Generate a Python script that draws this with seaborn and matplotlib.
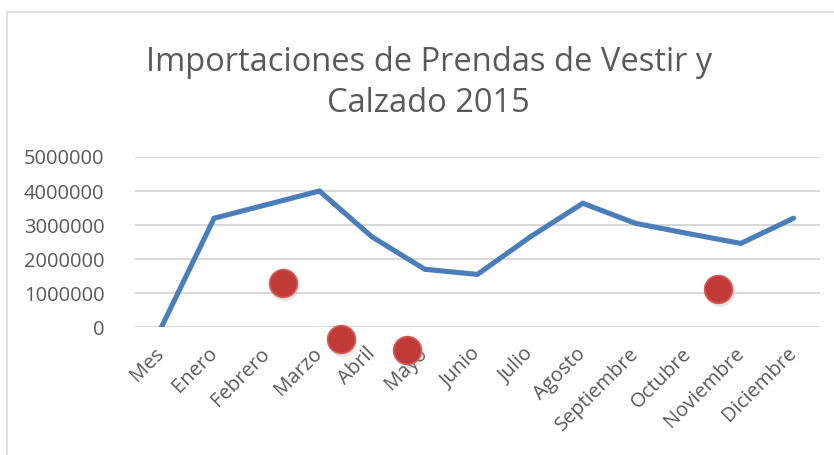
import numpy as np
import pandas as pd
import matplotlib
matplotlib.use('Agg')
import matplotlib.pyplot as plt
import seaborn as sns
from matplotlib.patches import Rectangle

meses = ['Mes', 'Enero', 'Febrero', 'Marzo', 'Abril', 'Mayo', 'Junio', 'Julio',
         'Agosto', 'Septiembre', 'Octubre', 'Noviembre', 'Diciembre']
importaciones = [0, 3200000, 3600000, 4000000, 2650000, 1700000, 1550000,
                 2650000, 3640000, 3050000, 2750000, 2460000, 3200000]

# red decorative spheres on top of the chart (category position, value)
punto_x = [2.30, 3.40, 4.67, 10.57]
punto_y = [1290000, -350000, -680000, 1120000]

yticks = [0, 1000000, 2000000, 3000000, 4000000, 5000000]

df = pd.DataFrame({'pos': np.arange(len(meses)), 'valor': importaciones})

sns.set_style('white')
plt.rcParams['font.family'] = ['Open Sans', 'DejaVu Sans']

fig = plt.figure(figsize=(8.34, 4.55), dpi=100)
ax = fig.add_axes([0.162, 0.281, 0.821, 0.374])

# chart area border
fig.patches.append(Rectangle((7 / 834, -0.1), 1.2, 1.1 - 12 / 455, transform=fig.transFigure,
                             fill=False, edgecolor='#d9d9d9', linewidth=1.2))

sns.lineplot(data=df, x='pos', y='valor', ax=ax, color='#4a7ebb', linewidth=3.7,
             solid_joinstyle='miter', zorder=3)

ax.scatter([x + 0.04 for x in punto_x], [y - 100000 for y in punto_y], s=440,
           color='#aaaaaa', alpha=0.3, edgecolor='none', zorder=4, clip_on=False)
ax.scatter(punto_x, punto_y, s=400, color='#c03a38', edgecolor='#d65a55',
           linewidth=1.2, zorder=5, clip_on=False)

ax.set_xlim(-0.5, len(meses) - 0.5)
ax.set_ylim(0, 5000000)
ax.set_yticks(yticks)
ax.set_yticklabels([str(v) for v in yticks])
ax.set_xticks(np.arange(len(meses)))
ax.set_xticklabels(meses, rotation=45, ha='right', va='center', rotation_mode='anchor')
ax.tick_params(axis='x', length=0, pad=17, labelsize=14.5, labelcolor='#595959')
ax.tick_params(axis='y', length=0, pad=22, labelsize=14.5, labelcolor='#595959')
ax.grid(axis='y', color='#d9d9d9', linewidth=1.5)
ax.set_axisbelow(True)
for s in ax.spines.values():
    s.set_visible(False)
ax.set_xlabel('')
ax.set_ylabel('')

fig.text(0.514, 0.818, 'Importaciones de Prendas de Vestir y\nCalzado 2015', ha='center',
         va='center', fontsize=23.5, color='#595959', linespacing=1.33)

fig.savefig('out.png', dpi=100)
